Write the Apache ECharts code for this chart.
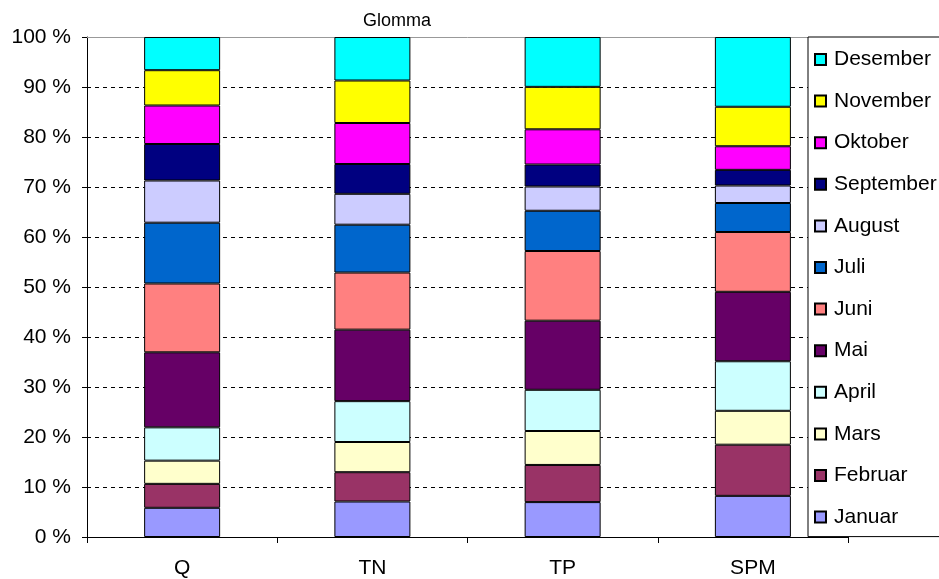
<!DOCTYPE html>
<html>
<head>
<meta charset="utf-8">
<script src="https://cdn.jsdelivr.net/npm/echarts@6/dist/echarts.min.js"></script>
<style>html,body{margin:0;padding:0;background:#fff}#c{width:939px;height:579px}</style>
</head>
<body>
<div id="c"></div>
<script>
const categories = ['Q', 'TN', 'TP', 'SPM'];
const months = ['Januar','Februar','Mars','April','Mai','Juni','Juli','August','September','Oktober','November','Desember'];
const januar    = [5.84, 7.10, 6.98, 8.23];
const februar   = [4.79, 5.86, 7.43, 10.23];
const mars      = [4.64, 6.04, 6.79, 6.78];
const april     = [6.66, 8.17, 8.24, 9.91];
const mai       = [15.01, 14.30, 13.82, 13.89];
const juni      = [13.76, 11.42, 13.94, 11.96];
const juli      = [12.16, 9.57, 8.05, 5.80];
const august    = [8.44, 6.18, 4.85, 3.50];
const september = [7.30, 5.96, 4.40, 3.13];
const oktober   = [7.70, 8.20, 7.04, 4.72];
const november  = [7.06, 8.50, 8.49, 7.90];
const desember  = [6.64, 8.70, 9.97, 13.95];
const yTicks = [0, 10, 20, 30, 40, 50, 60, 70, 80, 90, 100];

const seriesValues = [januar, februar, mars, april, mai, juni, juli, august, september, oktober, november, desember];
const colors = ['#9999FF','#993366','#FFFFCC','#CCFFFF','#660066','#FF8080','#0066CC','#CCCCFF','#000080','#FF00FF','#FFFF00','#00FFFF'];

const FONT = 'Liberation Sans, Arial, sans-serif';
const chart = echarts.init(document.getElementById('c'));
chart.setOption({
  animation: false,
  title: {
    text: 'Glomma', left: 358, top: 7,
    textStyle: {fontFamily: FONT, fontSize: 18, fontWeight: 'normal', color: '#000'}
  },
  grid: {left: 87, right: 91, top: 37, bottom: 41, containLabel: false},
  legend: {
    orient: 'vertical', left: 808, top: 37,
    data: months.slice().reverse(),
    icon: 'rect', itemWidth: 11, itemHeight: 11, itemGap: 20.6,
    padding: [12, 40, 9, 6],
    backgroundColor: '#fff', borderColor: '#000', borderWidth: 1,
    textStyle: {fontFamily: FONT, fontSize: 21, color: '#000', lineHeight: 21, padding: [0,0,0,3]}
  },
  xAxis: [{
    type: 'category', data: categories, position: 'bottom',
    axisLine: {lineStyle: {color: '#000', width: 1}},
    axisTick: {show: true, length: 6, lineStyle: {color: '#000'}},
    axisLabel: {fontFamily: FONT, fontSize: 21, color: '#000', margin: 21}
  }, {
    type: 'category', data: categories, position: 'top',
    axisLine: {lineStyle: {color: '#999', width: 1}},
    axisTick: {show: false}, axisLabel: {show: false}
  }],
  yAxis: {
    type: 'value', min: yTicks[0], max: yTicks[yTicks.length - 1], interval: 10,
    axisLine: {show: true, lineStyle: {color: '#000', width: 1}},
    axisTick: {show: true, length: 5, lineStyle: {color: '#000'}},
    axisLabel: {fontFamily: FONT, fontSize: 21, color: '#000', margin: 16, formatter: '{value} %'},
    splitLine: {show: true, lineStyle: {color: '#000', type: [4, 4], width: 1}}
  },
  series: months.map((m, i) => ({
    name: m, type: 'bar', stack: 'all', barWidth: 76, xAxisIndex: 0,
    data: seriesValues[i],
    itemStyle: {color: colors[i], borderColor: '#000', borderWidth: 1}
  }))
});
</script>
</body>
</html>
